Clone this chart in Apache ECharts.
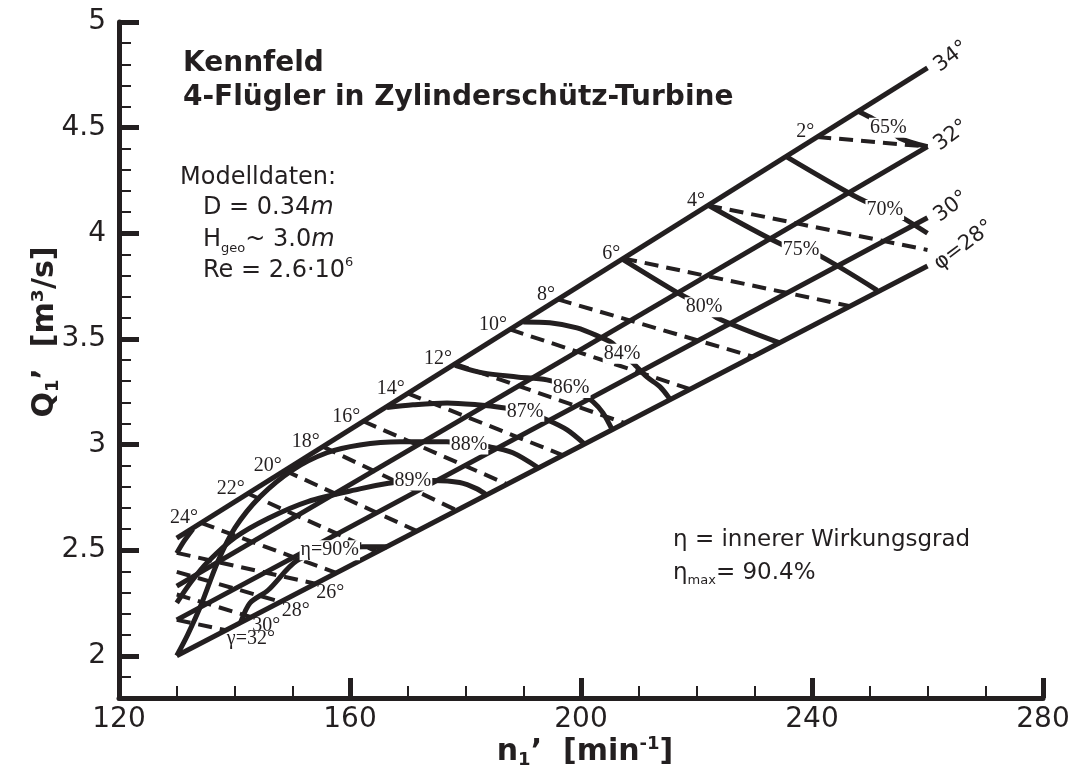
<!DOCTYPE html>
<html>
<head>
<meta charset="utf-8">
<script src="https://cdn.jsdelivr.net/npm/echarts@6/dist/echarts.min.js"></script>
<style>
  html, body { margin: 0; padding: 0; background: #ffffff; }
  #chart { width: 1075px; height: 774px; }
</style>
</head>
<body>
<div id="chart"></div>
<script>
// Axis ticks
const xTicks = [120, 160, 200, 240, 280];
const yTicks = [2, 2.5, 3, 3.5, 4, 4.5, 5];

// Runner blade angle lines (phi) as [n1', Q1']
const phi34 = [[130, 2.557], [260, 4.783]];
const phi32 = [[130, 2.33], [260, 4.41]];
const phi30 = [[130, 2.17], [260, 4.073]];
const phi28 = [[130, 2.0], [260, 3.845]];
const phiNames = ['34°', '32°', '30°', 'φ=28°'];

// Guide vane angle lines (gamma): start and end of each dashed line
const gammaAngles = [2, 4, 6, 8, 10, 12, 14, 16, 18, 20, 22, 24, 26, 28, 30, 32];
const gammaStartN = [240.9, 222.0, 207.3, 196.0, 187.7, 178.2, 170.0, 162.3, 155.3, 148.7, 142.3, 134.2, 130, 130, 130, 130];
const gammaStartQ = [4.456, 4.132, 3.881, 3.687, 3.545, 3.382, 3.242, 3.110, 2.990, 2.877, 2.768, 2.629, 2.487, 2.397, 2.29, 2.17];
const gammaEndN = [260, 260, 246.6, 229.8, 218.9, 207.6, 196.9, 187.2, 178.5, 171.6, 164.7, 157.6, 154.0, 148.0, 142.9, 138.5];
const gammaEndQ = [4.41, 3.921, 3.655, 3.416, 3.262, 3.101, 2.949, 2.812, 2.688, 2.590, 2.492, 2.392, 2.341, 2.255, 2.183, 2.121];

// Efficiency contours (eta, %)
const eta65 = [[247.8, 4.58], [250.0, 4.55], [253.2, 4.50], [255.2, 4.45], [260, 4.41]];
const eta70 = [[235.7, 4.36], [247.1, 4.18], [252.6, 4.11], [254.0, 4.10], [260, 4.0]];
const eta75 = [[222.2, 4.13], [234.5, 3.95], [238.1, 3.92], [240.9, 3.90], [251.3, 3.73]];
const eta80 = [[207.3, 3.875], [216.6, 3.72], [221.3, 3.65], [223.5, 3.60], [234.5, 3.48]];
const eta84 = [[190.0, 3.58], [194.6, 3.576], [199.3, 3.552], [203.3, 3.509], [205.4, 3.481], [207.1, 3.43], [209.0, 3.386], [211.4, 3.32], [213.7, 3.273], [215.4, 3.215]];
const eta86 = [[178.2, 3.375], [183.0, 3.339], [188.9, 3.32], [194.1, 3.306], [198.3, 3.268], [200.2, 3.235], [202.1, 3.202], [203.8, 3.15], [205.4, 3.07]];
const eta87 = [[166.4, 3.175], [170.9, 3.188], [176.8, 3.197], [182.0, 3.188], [186.5, 3.174], [190.3, 3.155], [194.1, 3.117], [197.6, 3.069], [200.7, 3.0]];
const eta87Edge = [[130, 2.485], [131.2, 2.54], [132.8, 2.60]];
const eta88 = [[130, 2.0], [131.9, 2.10], [134.2, 2.24], [137.1, 2.445], [140.1, 2.606], [144.4, 2.752], [150.1, 2.88], [156.0, 2.961], [161.7, 2.998], [168.7, 3.013], [176.8, 3.013], [180.6, 3.0], [184.2, 2.989], [188.2, 2.961], [192.6, 2.89]];
const eta89 = [[130, 2.25], [132.5, 2.35], [135.4, 2.445], [140.1, 2.56], [145.8, 2.65], [152.7, 2.73], [161.7, 2.79], [166.4, 2.815], [170.9, 2.83], [174.4, 2.83], [179, 2.82], [182, 2.79], [183.7, 2.76]];
const eta90 = [[141.1, 2.16], [142.7, 2.25], [145.8, 2.31], [150.8, 2.45], [156.5, 2.50], [162.3, 2.516], [166.4, 2.516]];

const etaLevels = [65, 70, 75, 80, 84, 86, 87, 88, 89, 90];
const etaCurves = [eta65, eta70, eta75, eta80, eta84, eta86, eta87, eta88, eta89, eta90];
const etaLabelIndex = [2, 2, 2, 2, 5, 4, 5, 11, 8, 4];

const ink = '#231f20';
const sans = '"DejaVu Sans", sans-serif';
const serif = '"Liberation Serif", "DejaVu Serif", serif';

const series = [];

// solid blade angle lines
[phi34, phi32, phi30, phi28].forEach(function (d) {
  series.push({ type: 'line', data: d, symbol: 'none', silent: true, z: 3,
    lineStyle: { color: ink, width: 5 } });
});

// dashed guide vane lines
gammaAngles.forEach(function (g, i) {
  series.push({ type: 'line', symbol: 'none', silent: true, z: 2,
    data: [[gammaStartN[i], gammaStartQ[i]], [gammaEndN[i], gammaEndQ[i]]],
    lineStyle: { color: ink, width: 4, type: [14, 8] } });
});

// efficiency contours
etaCurves.concat([eta87Edge]).forEach(function (c) {
  series.push({ type: 'line', data: c, symbol: 'none', silent: true, z: 3, smooth: 0.3,
    lineStyle: { color: ink, width: 5 } });
});

// shared look of the text marks placed on the diagram
function textLabel(extra) {
  return Object.assign({ show: true, formatter: '{b}', color: ink, opacity: 1,
    textBorderWidth: 0, textShadowBlur: 0 }, extra);
}
const plainItem = { opacity: 1, color: ink };

// gamma labels along the upper line
series.push({
  type: 'scatter', symbolSize: 0, silent: true, z: 6, itemStyle: plainItem,
  data: gammaAngles.map(function (g, i) {
    return { value: [gammaStartN[i], gammaStartQ[i]], name: g + '°' };
  }).filter(function (d, i) { return gammaAngles[i] <= 24; }),
  label: textLabel({ position: 'left', distance: 3, offset: [0, -5],
    fontFamily: serif, fontSize: 20 })
});

// gamma labels along the lower line
series.push({
  type: 'scatter', symbolSize: 0, silent: true, z: 6, itemStyle: plainItem,
  data: gammaAngles.map(function (g, i) {
    return { value: [gammaEndN[i], gammaEndQ[i]], name: (g === 32 ? 'γ=' : '') + g + '°' };
  }).filter(function (d, i) { return gammaAngles[i] >= 26; }),
  label: textLabel({ position: 'right', distance: 0, offset: [1, 9],
    fontFamily: serif, fontSize: 20 })
});

// blade angle labels at the right ends
series.push({
  type: 'scatter', symbolSize: 0, silent: true, z: 6, itemStyle: plainItem,
  data: [phi34, phi32, phi30, phi28].map(function (d, i) {
    return { value: d[d.length - 1], name: phiNames[i] };
  }),
  label: textLabel({ position: 'right', distance: 9, rotate: 37,
    align: 'left', verticalAlign: 'middle', fontFamily: sans, fontSize: 21 })
});

// efficiency labels on the contours
series.push({
  type: 'scatter', symbolSize: 0, silent: true, z: 8, itemStyle: plainItem,
  data: etaCurves.map(function (c, i) {
    const lvl = etaLevels[i];
    return { value: c[etaLabelIndex[i]], name: (lvl === 90 ? 'η=' : '') + lvl + '%' };
  }),
  label: textLabel({ position: 'inside', backgroundColor: '#ffffff', padding: [0, 1],
    fontFamily: serif, fontSize: 20 })
});

const richBase = { fill: ink, fontFamily: sans };

const option = {
  animation: false,
  backgroundColor: '#ffffff',
  grid: { left: 119, right: 32, top: 22, bottom: 76 },
  xAxis: {
    type: 'value', min: xTicks[0], max: xTicks[xTicks.length - 1], interval: 40,
    axisLine: { onZero: false, lineStyle: { color: ink, width: 5 } },
    axisTick: { inside: true, length: 20, lineStyle: { color: ink, width: 5 } },
    minorTick: { show: true, splitNumber: 4, length: 12, lineStyle: { color: ink, width: 2 } },
    splitLine: { show: false },
    axisLabel: { color: ink, fontSize: 28, fontFamily: sans, margin: 8 }
  },
  yAxis: [
    {
      type: 'value', min: 1.8, max: 5, interval: 0.1,
      axisLine: { show: true, onZero: false, lineStyle: { color: ink, width: 5 } },
      axisTick: { inside: true, length: 12, lineStyle: { color: ink, width: 2 } },
      axisLabel: { show: false },
      splitLine: { show: false }
    },
    {
      type: 'value', min: 1.8, max: 5, position: 'left',
      axisLine: { show: false, onZero: false },
      axisTick: { inside: true, length: 20, lineStyle: { color: ink, width: 5 }, customValues: yTicks },
      axisLabel: { color: ink, fontSize: 28, fontFamily: sans, margin: 13, customValues: yTicks },
      splitLine: { show: false }
    }
  ],
  graphic: [
    { type: 'text', x: 183, y: 64, style: { text: 'Kennfeld', fill: ink,
        font: 'bold 28px "DejaVu Sans"', verticalAlign: 'middle' } },
    { type: 'text', x: 183, y: 98, style: { text: '4-Flügler in Zylinderschütz-Turbine', fill: ink,
        font: 'bold 28px "DejaVu Sans"', verticalAlign: 'middle' } },
    { type: 'text', x: 180, y: 178, style: { text: 'Modelldaten:', fill: ink,
        font: '24px "DejaVu Sans"', verticalAlign: 'middle' } },
    { type: 'text', x: 203, y: 208, style: { text: '{a|D = 0.34}{i|m}', verticalAlign: 'middle',
        rich: { a: Object.assign({ fontSize: 24, lineHeight: 30 }, richBase),
                i: Object.assign({ fontSize: 24, lineHeight: 30, fontStyle: 'italic' }, richBase) } } },
    { type: 'text', x: 203, y: 240, style: { text: '{a|H}{s|geo}{a|~ 3.0}{i|m}', verticalAlign: 'middle',
        rich: { a: Object.assign({ fontSize: 24, lineHeight: 30 }, richBase),
                s: Object.assign({ fontSize: 13, lineHeight: 12, verticalAlign: 'bottom' }, richBase),
                i: Object.assign({ fontSize: 24, lineHeight: 30, fontStyle: 'italic' }, richBase) } } },
    { type: 'text', x: 203, y: 271, style: { text: '{a|Re = 2.6·10}{p|6}', verticalAlign: 'middle',
        rich: { a: Object.assign({ fontSize: 24, lineHeight: 30 }, richBase),
                p: Object.assign({ fontSize: 13, lineHeight: 16, verticalAlign: 'top' }, richBase) } } },
    { type: 'text', x: 673, y: 540, style: { text: 'η = innerer Wirkungsgrad', fill: ink,
        font: '23px "DejaVu Sans"', verticalAlign: 'middle' } },
    { type: 'text', x: 673, y: 573, style: { text: '{a|η}{s|max}{a|= 90.4%}', verticalAlign: 'middle',
        rich: { a: Object.assign({ fontSize: 23, lineHeight: 28 }, richBase),
                s: Object.assign({ fontSize: 13, lineHeight: 10, verticalAlign: 'bottom' }, richBase) } } },
    { type: 'text', x: 45, y: 332, rotation: Math.PI / 2,
      style: { text: '{b|Q}{s|1}{b|’  [m³/s]}', align: 'center', verticalAlign: 'middle',
        rich: { b: Object.assign({ fontSize: 30, fontWeight: 'bold', lineHeight: 34 }, richBase),
                s: Object.assign({ fontSize: 18, fontWeight: 'bold', lineHeight: 16, verticalAlign: 'bottom' }, richBase) } } },
    { type: 'text', x: 585, y: 752,
      style: { text: '{b|n}{s|1}{b|’  [min}{p|-1}{b|]}', align: 'center', verticalAlign: 'middle',
        rich: { b: Object.assign({ fontSize: 30, fontWeight: 'bold', lineHeight: 34 }, richBase),
                s: Object.assign({ fontSize: 18, fontWeight: 'bold', lineHeight: 16, verticalAlign: 'bottom' }, richBase),
                p: Object.assign({ fontSize: 18, fontWeight: 'bold', lineHeight: 20, verticalAlign: 'top' }, richBase) } } }
  ],
  series: series
};

const chart = echarts.init(document.getElementById('chart'));
chart.setOption(option);
</script>
</body>
</html>
